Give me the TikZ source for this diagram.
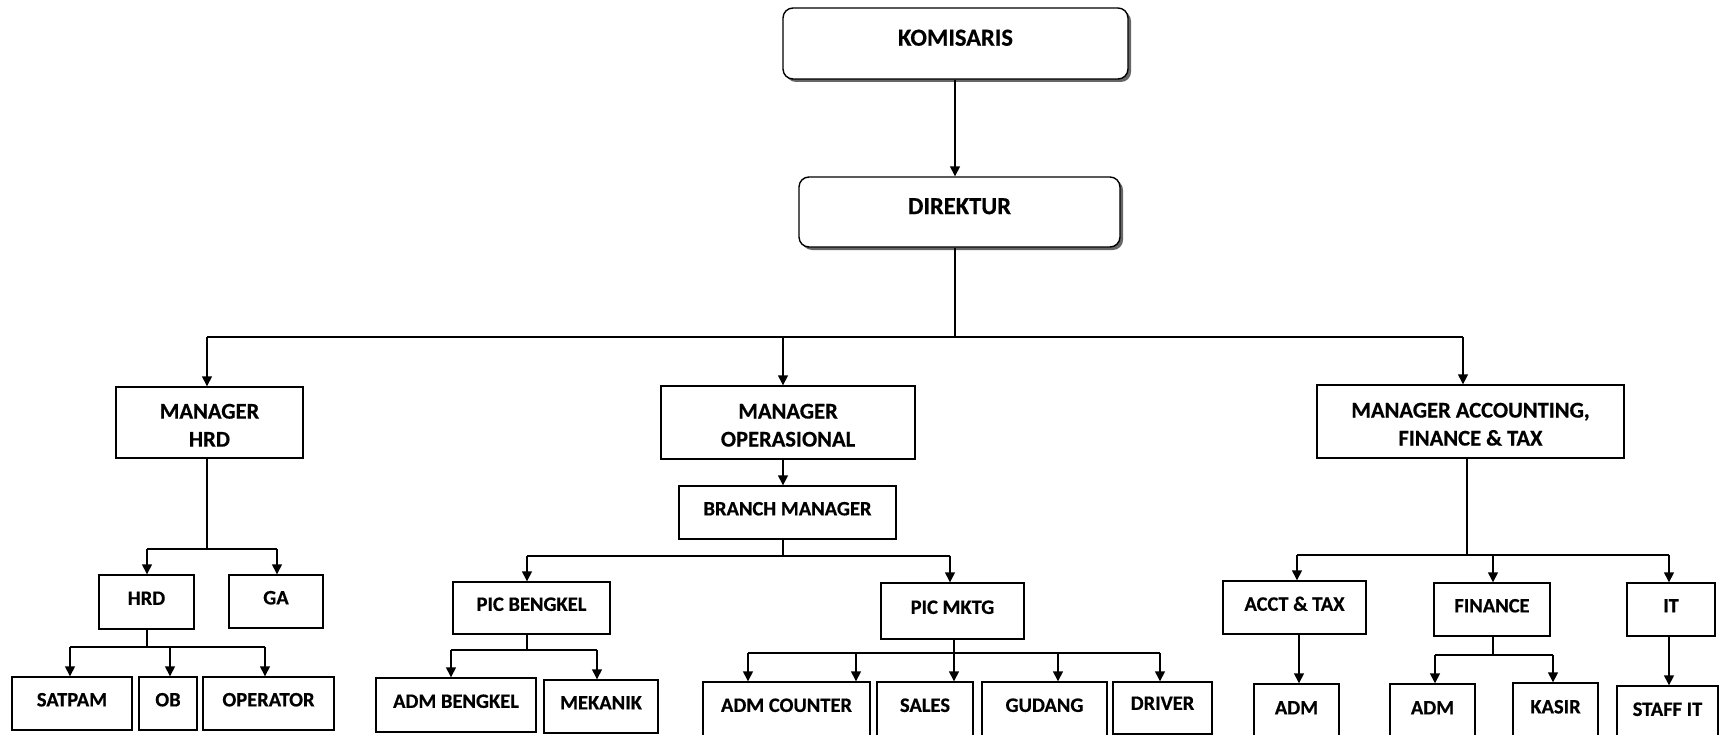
\documentclass[tikz,border=0pt]{standalone}
\usepackage{fontspec}
\setmainfont{Carlito}[BoldFeatures={FakeBold=0.5}]
\usetikzlibrary{arrows.meta,shadows}
\tikzset{
  box/.style={draw=black, line width=1.4bp, rectangle, inner sep=0pt, fill=white},
  topbox/.style={box, rounded corners=10bp, general shadow={fill=black!60, shadow xshift=3bp, shadow yshift=-3bp}},
  txt/.style={align=center, inner sep=0pt, font=\bfseries\fontsize{20.5bp}{26bp}\selectfont, yshift=3.75bp},
  bigtxt/.style={font=\bfseries\fontsize{24.5bp}{28bp}\selectfont, yshift=2bp},
  midtxt/.style={font=\bfseries\fontsize{22.5bp}{28bp}\selectfont, yshift=-6.5bp},
  con/.style={line width=1.4bp, draw=black},
  arr/.style={con, -{Triangle[length=10bp,width=10bp]}}
}
% #1 box style, #2 text style, #3 name, #4-#7 x1,y1,x2,y2, #8 text
\newcommand\orgbox[8]{\node[box,#1,minimum width={(#6-#4)*1bp},minimum height={(#7-#5)*1bp},label={[txt,#2]center:{#8}}] (#3) at ({(#4+#6)/2},{(#5+#7)/2}) {};}
\begin{document}
\begin{tikzpicture}[x=1bp,y=-1bp]
\useasboundingbox (0,0) rectangle (1721,735);
\clip (0,0) rectangle (1721,735);
% boxes
\orgbox{topbox}{bigtxt}{kom}{783}{8}{1128}{79}{KOMISARIS}
\orgbox{topbox}{bigtxt}{dir}{799}{177}{1120}{247}{DIREKTUR}
\orgbox{}{midtxt}{mh}{116}{387}{303}{458}{MANAGER\\HRD}
\orgbox{}{midtxt}{mop}{661}{386}{915}{459}{MANAGER\\OPERASIONAL}
\orgbox{}{midtxt}{maft}{1317}{385}{1624}{458}{MANAGER ACCOUNTING,\\FINANCE \& TAX}
\orgbox{}{}{bm}{679}{486}{896}{539}{BRANCH MANAGER}
\orgbox{}{}{hrd}{99}{575}{194}{629}{HRD}
\orgbox{}{}{ga}{229}{575}{323}{628}{GA}
\orgbox{}{}{satpam}{12}{677}{132}{730}{SATPAM}
\orgbox{}{}{ob}{139}{677}{197}{730}{OB}
\orgbox{}{}{oper}{203}{677}{334}{730}{OPERATOR}
\orgbox{}{}{pb}{453}{582}{610}{634}{PIC BENGKEL}
\orgbox{}{}{admb}{376}{678}{536}{732}{ADM BENGKEL}
\orgbox{}{}{mek}{544}{680}{658}{733}{MEKANIK}
\orgbox{}{}{pm}{881}{583}{1024}{639}{PIC MKTG}
\orgbox{}{}{admc}{703}{682}{870}{736}{ADM COUNTER}
\orgbox{}{}{sales}{877}{682}{973}{736}{SALES}
\orgbox{}{}{gud}{982}{682}{1107}{736}{GUDANG}
\orgbox{}{yshift=1bp}{drv}{1113}{682}{1212}{734}{DRIVER}
\orgbox{}{}{acct}{1223}{581}{1366}{634}{ACCT \& TAX}
\orgbox{}{}{admone}{1254}{684}{1339}{739}{ADM}
\orgbox{}{}{fin}{1434}{583}{1550}{636}{FINANCE}
\orgbox{}{}{admtwo}{1390}{684}{1475}{739}{ADM}
\orgbox{}{}{kasir}{1513}{683}{1598}{738}{KASIR}
\orgbox{}{}{it}{1627}{583}{1715}{636}{IT}
\orgbox{}{}{staff}{1617}{686}{1718}{740}{STAFF IT}
% junction coordinates
\coordinate (b0) at (955,337);
\coordinate (b0l) at (207,337);
\coordinate (b0m) at (783,337);
\coordinate (b0r) at (1463,337);
\coordinate (h1) at (207,549);
\coordinate (h1l) at (147,549);
\coordinate (h1r) at (277,549);
\coordinate (h2) at (147,647);
\coordinate (h2l) at (70,647);
\coordinate (h2m) at (170,647);
\coordinate (h2r) at (265,647);
\coordinate (o1) at (783,556);
\coordinate (o1l) at (527,556);
\coordinate (o1r) at (950,556);
\coordinate (o2) at (527,650);
\coordinate (o2l) at (451,650);
\coordinate (o2r) at (597,650);
\coordinate (o3) at (954,653);
\coordinate (o3a) at (748,653);
\coordinate (o3b) at (856,653);
\coordinate (o3c) at (954,653);
\coordinate (o3d) at (1058,653);
\coordinate (o3e) at (1160,653);
\coordinate (f1) at (1467,555);
\coordinate (f1l) at (1297,555);
\coordinate (f1m) at (1493,555);
\coordinate (f1r) at (1669,555);
\coordinate (f2) at (1493,655);
\coordinate (f2l) at (1435,655);
\coordinate (f2r) at (1553,655);
\coordinate (ac) at (1299,634);
% connectors
\draw[arr] (kom.south -| b0) -- (b0 |- dir.north);
\draw[con] (dir.south -| b0) -- (b0);
\draw[con] (b0l) -- (b0r);
\draw[arr] (b0l) -- (b0l |- mh.north);
\draw[arr] (b0m) -- (b0m |- mop.north);
\draw[arr] (b0r) -- (b0r |- maft.north);
% HRD branch
\draw[con] (mh.south -| h1) -- (h1);
\draw[con] (h1l) -- (h1r);
\draw[arr] (h1l) -- (h1l |- hrd.north);
\draw[arr] (h1r) -- (h1r |- ga.north);
\draw[con] (hrd.south -| h2) -- (h2);
\draw[con] (h2l) -- (h2r);
\draw[arr] (h2l) -- (h2l |- satpam.north);
\draw[arr] (h2m) -- (h2m |- ob.north);
\draw[arr] (h2r) -- (h2r |- oper.north);
% operational branch
\draw[arr] (mop.south -| b0m) -- (b0m |- bm.north);
\draw[con] (bm.south -| o1) -- (o1);
\draw[con] (o1l) -- (o1r);
\draw[arr] (o1l) -- (o1l |- pb.north);
\draw[arr] (o1r) -- (o1r |- pm.north);
\draw[con] (pb.south -| o2) -- (o2);
\draw[con] (o2l) -- (o2r);
\draw[arr] (o2l) -- (o2l |- admb.north);
\draw[arr] (o2r) -- (o2r |- mek.north);
\draw[con] (pm.south -| o3) -- (o3);
\draw[con] (o3a) -- (o3e);
\draw[arr] (o3a) -- (o3a |- admc.north);
\draw[arr] (o3b) -- (o3b |- admc.north);
\draw[arr] (o3c) -- (o3c |- sales.north);
\draw[arr] (o3d) -- (o3d |- gud.north);
\draw[arr] (o3e) -- (o3e |- drv.north);
% finance branch
\draw[con] (maft.south -| f1) -- (f1);
\draw[con] (f1l) -- (f1r);
\draw[arr] (f1l) -- (f1l |- acct.north);
\draw[arr] (f1m) -- (f1m |- fin.north);
\draw[arr] (f1r) -- (f1r |- it.north);
\draw[arr] (acct.south -| ac) -- (ac |- admone.north);
\draw[con] (fin.south -| f2) -- (f2);
\draw[con] (f2l) -- (f2r);
\draw[arr] (f2l) -- (f2l |- admtwo.north);
\draw[arr] (f2r) -- (f2r |- kasir.north);
\draw[arr] (it.south -| f1r) -- (f1r |- staff.north);
\end{tikzpicture}
\end{document}
